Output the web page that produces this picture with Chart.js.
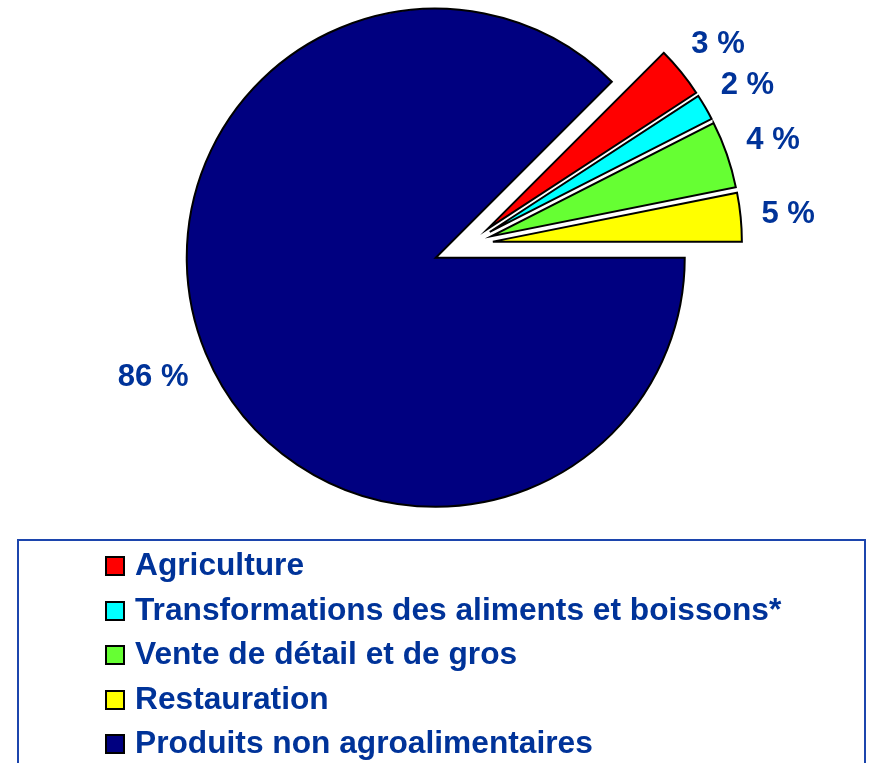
<!DOCTYPE html>
<html><head><meta charset="utf-8">
<script src="https://cdn.jsdelivr.net/npm/chart.js@4"></script>
<style>
html,body{margin:0;padding:0;width:871px;height:763px;overflow:hidden;background:#fff;}
#c{position:absolute;left:0;top:0;}
#legendBox{position:absolute;left:17px;top:539px;width:845px;height:260px;border:2px solid #1c45ad;}
.row{position:absolute;left:135px;height:44.5px;line-height:44.5px;font:bold 31.7px "Liberation Sans",Arial,sans-serif;color:#003399;white-space:nowrap;}
.box{position:absolute;left:-30px;top:10px;width:16px;height:16px;border:2px solid #000;}
</style></head>
<body>
<canvas id="c" width="871" height="763"></canvas>
<div id="legendBox"></div>
<div id="legend"></div>
<script>
// ---- data ----
const categories = ['Agriculture', 'Transformations des aliments et boissons*', 'Vente de détail et de gros', 'Restauration', 'Produits non agroalimentaires'];
const shares = [3.3, 1.7, 4.35, 3.15, 87.5];          // slice sizes as drawn
const percentLabels = ['3 %', '2 %', '4 %', '5 %', '86 %']; // printed labels
const sliceColors = ['#FF0000', '#00FFFF', '#66FF33', '#FFFF00', '#000080'];

// ---- styling ----
const explode = [24, 24, 24, 24, 36];
const textColor = '#003399';
const fontSpec = 'bold 31px "Liberation Sans", Arial, sans-serif';
const total = shares.reduce((a, b) => a + b, 0);
const rotation = 90 - (total - shares[4]) / total * 360;

const explodePlugin = {
  id: 'explode',
  afterDatasetsUpdate(chart) {
    const meta = chart.getDatasetMeta(0);
    const ca = chart.chartArea;
    const cx = (ca.left + ca.right) / 2, cy = (ca.top + ca.bottom) / 2;
    meta.data.forEach((arc, i) => {
      const mid = (arc.startAngle + arc.endAngle) / 2;
      arc.x = cx + Math.cos(mid) * explode[i];
      arc.y = cy + Math.sin(mid) * explode[i];
    });
  }
};

const labelPlugin = {
  id: 'pctLabels',
  afterDatasetsDraw(chart) {
    const ctx = chart.ctx;
    const meta = chart.getDatasetMeta(0);
    ctx.save();
    ctx.font = fontSpec;
    ctx.fillStyle = textColor;
    ctx.textAlign = 'center';
    ctx.textBaseline = 'alphabetic';
    meta.data.forEach((arc, i) => {
      const mid = (arc.startAngle + arc.endAngle) / 2;
      const txt = percentLabels[i];
      const w = ctx.measureText(txt).width;
      const c = Math.cos(mid), s = Math.sin(mid);
      const d = arc.outerRadius + 20 + Math.abs(c) * w / 2 + Math.abs(s) * 11;
      const x = arc.x + c * d, y = arc.y + s * d;
      ctx.fillText(txt, x, y + 11);
    });
    ctx.restore();
  }
};

new Chart(document.getElementById('c'), {
  type: 'pie',
  data: {
    labels: categories,
    datasets: [{
      data: shares,
      backgroundColor: sliceColors,
      borderColor: '#000000',
      borderWidth: 2,
      borderJoinStyle: 'miter',
      clip: false
    }]
  },
  options: {
    responsive: false,
    animation: false,
    rotation: rotation,
    radius: 249,
    layout: { padding: { left: 67, right: 0, top: 0, bottom: 275 } },
    plugins: { legend: { display: false }, tooltip: { enabled: false }, title: { display: false } },
    events: []
  },
  plugins: [explodePlugin, labelPlugin]
});

// ---- HTML legend ----
const lg = document.getElementById('legend');
categories.forEach((name, i) => {
  const r = document.createElement('div');
  r.className = 'row';
  r.style.top = (546 + 44.5 * i) + 'px';
  const b = document.createElement('span');
  b.className = 'box';
  b.style.background = sliceColors[i];
  r.appendChild(b);
  r.appendChild(document.createTextNode(name));
  lg.appendChild(r);
});
</script>
</body></html>
